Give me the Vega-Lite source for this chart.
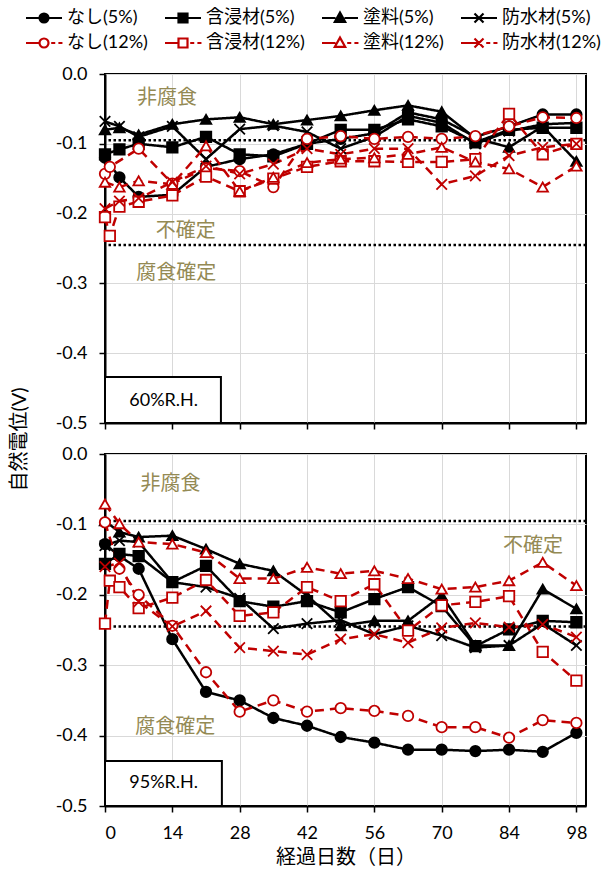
{
"$schema": "https://vega.github.io/schema/vega-lite/v6.json",
"padding": {"left": 8, "top": 8, "right": 5, "bottom": 5},
"datasets": {
"thr": [{"v": -0.095}, {"v": -0.245}],
"ann": [
{"rh":"60","d":12.9,"v":-0.035,"t":"非腐食"},{"rh":"60","d":16.8,"v":-0.225,"t":"不確定"},{"rh":"60","d":14.8,"v":-0.285,"t":"腐食確定"},
{"rh":"95","d":13.6,"v":-0.043,"t":"非腐食"},{"rh":"95","d":89,"v":-0.131,"t":"不確定"},{"rh":"95","d":14.6,"v":-0.388,"t":"腐食確定"}],
"box": [
{"rh":"60","d":0,"d2":24.1,"v":-0.434,"v2":-0.5},
{"rh":"95","d":0,"d2":24.3,"v":-0.436,"v2":-0.5}],
"boxt": [
{"rh":"60","d":12.2,"v":-0.468,"t":"60%R.H."},
{"rh":"95","d":12.2,"v":-0.468,"t":"95%R.H."}],
"d": [
{"rh":"60","s":"なし(5%)","d":0,"v":-0.12},{"rh":"60","s":"なし(5%)","d":3,"v":-0.148},{"rh":"60","s":"なし(5%)","d":7,"v":-0.176},{"rh":"60","s":"なし(5%)","d":14,"v":-0.173},{"rh":"60","s":"なし(5%)","d":21,"v":-0.133},{"rh":"60","s":"なし(5%)","d":28,"v":-0.122},{"rh":"60","s":"なし(5%)","d":35,"v":-0.115},{"rh":"60","s":"なし(5%)","d":42,"v":-0.1},{"rh":"60","s":"なし(5%)","d":49,"v":-0.093},{"rh":"60","s":"なし(5%)","d":56,"v":-0.085},{"rh":"60","s":"なし(5%)","d":63,"v":-0.055},{"rh":"60","s":"なし(5%)","d":70,"v":-0.065},{"rh":"60","s":"なし(5%)","d":77,"v":-0.09},{"rh":"60","s":"なし(5%)","d":84,"v":-0.075},{"rh":"60","s":"なし(5%)","d":91,"v":-0.058},{"rh":"60","s":"なし(5%)","d":98,"v":-0.058},
{"rh":"60","s":"含浸材(5%)","d":0,"v":-0.115},{"rh":"60","s":"含浸材(5%)","d":3,"v":-0.108},{"rh":"60","s":"含浸材(5%)","d":7,"v":-0.1},{"rh":"60","s":"含浸材(5%)","d":14,"v":-0.105},{"rh":"60","s":"含浸材(5%)","d":21,"v":-0.09},{"rh":"60","s":"含浸材(5%)","d":28,"v":-0.115},{"rh":"60","s":"含浸材(5%)","d":35,"v":-0.118},{"rh":"60","s":"含浸材(5%)","d":42,"v":-0.1},{"rh":"60","s":"含浸材(5%)","d":49,"v":-0.08},{"rh":"60","s":"含浸材(5%)","d":56,"v":-0.08},{"rh":"60","s":"含浸材(5%)","d":63,"v":-0.065},{"rh":"60","s":"含浸材(5%)","d":70,"v":-0.075},{"rh":"60","s":"含浸材(5%)","d":77,"v":-0.098},{"rh":"60","s":"含浸材(5%)","d":84,"v":-0.08},{"rh":"60","s":"含浸材(5%)","d":91,"v":-0.077},{"rh":"60","s":"含浸材(5%)","d":98,"v":-0.077},
{"rh":"60","s":"塗料(5%)","d":0,"v":-0.08},{"rh":"60","s":"塗料(5%)","d":3,"v":-0.077},{"rh":"60","s":"塗料(5%)","d":7,"v":-0.087},{"rh":"60","s":"塗料(5%)","d":14,"v":-0.072},{"rh":"60","s":"塗料(5%)","d":21,"v":-0.065},{"rh":"60","s":"塗料(5%)","d":28,"v":-0.062},{"rh":"60","s":"塗料(5%)","d":35,"v":-0.072},{"rh":"60","s":"塗料(5%)","d":42,"v":-0.066},{"rh":"60","s":"塗料(5%)","d":49,"v":-0.06},{"rh":"60","s":"塗料(5%)","d":56,"v":-0.052},{"rh":"60","s":"塗料(5%)","d":63,"v":-0.045},{"rh":"60","s":"塗料(5%)","d":70,"v":-0.054},{"rh":"60","s":"塗料(5%)","d":77,"v":-0.092},{"rh":"60","s":"塗料(5%)","d":84,"v":-0.105},{"rh":"60","s":"塗料(5%)","d":91,"v":-0.075},{"rh":"60","s":"塗料(5%)","d":98,"v":-0.125},
{"rh":"60","s":"防水材(5%)","d":0,"v":-0.068},{"rh":"60","s":"防水材(5%)","d":3,"v":-0.075},{"rh":"60","s":"防水材(5%)","d":7,"v":-0.09},{"rh":"60","s":"防水材(5%)","d":14,"v":-0.075},{"rh":"60","s":"防水材(5%)","d":21,"v":-0.122},{"rh":"60","s":"防水材(5%)","d":28,"v":-0.079},{"rh":"60","s":"防水材(5%)","d":35,"v":-0.074},{"rh":"60","s":"防水材(5%)","d":42,"v":-0.083},{"rh":"60","s":"防水材(5%)","d":49,"v":-0.107},{"rh":"60","s":"防水材(5%)","d":56,"v":-0.09},{"rh":"60","s":"防水材(5%)","d":63,"v":-0.06},{"rh":"60","s":"防水材(5%)","d":70,"v":-0.07},{"rh":"60","s":"防水材(5%)","d":77,"v":-0.1},{"rh":"60","s":"防水材(5%)","d":84,"v":-0.082},{"rh":"60","s":"防水材(5%)","d":91,"v":-0.072},{"rh":"60","s":"防水材(5%)","d":98,"v":-0.07},
{"rh":"60","s":"なし(12%)","d":0,"v":-0.143},{"rh":"60","s":"なし(12%)","d":1,"v":-0.133},{"rh":"60","s":"なし(12%)","d":7,"v":-0.107},{"rh":"60","s":"なし(12%)","d":14,"v":-0.157},{"rh":"60","s":"なし(12%)","d":21,"v":-0.135},{"rh":"60","s":"なし(12%)","d":28,"v":-0.139},{"rh":"60","s":"なし(12%)","d":35,"v":-0.162},{"rh":"60","s":"なし(12%)","d":42,"v":-0.093},{"rh":"60","s":"なし(12%)","d":49,"v":-0.089},{"rh":"60","s":"なし(12%)","d":56,"v":-0.093},{"rh":"60","s":"なし(12%)","d":63,"v":-0.09},{"rh":"60","s":"なし(12%)","d":70,"v":-0.093},{"rh":"60","s":"なし(12%)","d":77,"v":-0.089},{"rh":"60","s":"なし(12%)","d":84,"v":-0.075},{"rh":"60","s":"なし(12%)","d":91,"v":-0.062},{"rh":"60","s":"なし(12%)","d":98,"v":-0.063},
{"rh":"60","s":"含浸材(12%)","d":0,"v":-0.205},{"rh":"60","s":"含浸材(12%)","d":1,"v":-0.232},{"rh":"60","s":"含浸材(12%)","d":3,"v":-0.19},{"rh":"60","s":"含浸材(12%)","d":7,"v":-0.183},{"rh":"60","s":"含浸材(12%)","d":14,"v":-0.174},{"rh":"60","s":"含浸材(12%)","d":21,"v":-0.147},{"rh":"60","s":"含浸材(12%)","d":28,"v":-0.168},{"rh":"60","s":"含浸材(12%)","d":35,"v":-0.15},{"rh":"60","s":"含浸材(12%)","d":42,"v":-0.133},{"rh":"60","s":"含浸材(12%)","d":49,"v":-0.125},{"rh":"60","s":"含浸材(12%)","d":56,"v":-0.125},{"rh":"60","s":"含浸材(12%)","d":63,"v":-0.126},{"rh":"60","s":"含浸材(12%)","d":70,"v":-0.126},{"rh":"60","s":"含浸材(12%)","d":77,"v":-0.122},{"rh":"60","s":"含浸材(12%)","d":84,"v":-0.057},{"rh":"60","s":"含浸材(12%)","d":91,"v":-0.115},{"rh":"60","s":"含浸材(12%)","d":98,"v":-0.1},
{"rh":"60","s":"塗料(12%)","d":0,"v":-0.155},{"rh":"60","s":"塗料(12%)","d":3,"v":-0.162},{"rh":"60","s":"塗料(12%)","d":7,"v":-0.153},{"rh":"60","s":"塗料(12%)","d":14,"v":-0.158},{"rh":"60","s":"塗料(12%)","d":21,"v":-0.103},{"rh":"60","s":"塗料(12%)","d":28,"v":-0.168},{"rh":"60","s":"塗料(12%)","d":35,"v":-0.148},{"rh":"60","s":"塗料(12%)","d":42,"v":-0.127},{"rh":"60","s":"塗料(12%)","d":49,"v":-0.122},{"rh":"60","s":"塗料(12%)","d":56,"v":-0.12},{"rh":"60","s":"塗料(12%)","d":63,"v":-0.115},{"rh":"60","s":"塗料(12%)","d":70,"v":-0.105},{"rh":"60","s":"塗料(12%)","d":77,"v":-0.126},{"rh":"60","s":"塗料(12%)","d":84,"v":-0.136},{"rh":"60","s":"塗料(12%)","d":91,"v":-0.162},{"rh":"60","s":"塗料(12%)","d":98,"v":-0.132},
{"rh":"60","s":"防水材(12%)","d":0,"v":-0.193},{"rh":"60","s":"防水材(12%)","d":3,"v":-0.182},{"rh":"60","s":"防水材(12%)","d":7,"v":-0.178},{"rh":"60","s":"防水材(12%)","d":14,"v":-0.155},{"rh":"60","s":"防水材(12%)","d":21,"v":-0.132},{"rh":"60","s":"防水材(12%)","d":28,"v":-0.143},{"rh":"60","s":"防水材(12%)","d":35,"v":-0.129},{"rh":"60","s":"防水材(12%)","d":42,"v":-0.107},{"rh":"60","s":"防水材(12%)","d":49,"v":-0.115},{"rh":"60","s":"防水材(12%)","d":56,"v":-0.107},{"rh":"60","s":"防水材(12%)","d":63,"v":-0.107},{"rh":"60","s":"防水材(12%)","d":70,"v":-0.158},{"rh":"60","s":"防水材(12%)","d":77,"v":-0.146},{"rh":"60","s":"防水材(12%)","d":84,"v":-0.117},{"rh":"60","s":"防水材(12%)","d":91,"v":-0.105},{"rh":"60","s":"防水材(12%)","d":98,"v":-0.1},
{"rh":"95","s":"なし(5%)","d":0,"v":-0.128},{"rh":"95","s":"なし(5%)","d":3,"v":-0.145},{"rh":"95","s":"なし(5%)","d":7,"v":-0.163},{"rh":"95","s":"なし(5%)","d":14,"v":-0.263},{"rh":"95","s":"なし(5%)","d":21,"v":-0.338},{"rh":"95","s":"なし(5%)","d":28,"v":-0.35},{"rh":"95","s":"なし(5%)","d":35,"v":-0.375},{"rh":"95","s":"なし(5%)","d":42,"v":-0.386},{"rh":"95","s":"なし(5%)","d":49,"v":-0.402},{"rh":"95","s":"なし(5%)","d":56,"v":-0.41},{"rh":"95","s":"なし(5%)","d":63,"v":-0.42},{"rh":"95","s":"なし(5%)","d":70,"v":-0.42},{"rh":"95","s":"なし(5%)","d":77,"v":-0.422},{"rh":"95","s":"なし(5%)","d":84,"v":-0.42},{"rh":"95","s":"なし(5%)","d":91,"v":-0.423},{"rh":"95","s":"なし(5%)","d":98,"v":-0.396},
{"rh":"95","s":"含浸材(5%)","d":0,"v":-0.156},{"rh":"95","s":"含浸材(5%)","d":3,"v":-0.142},{"rh":"95","s":"含浸材(5%)","d":7,"v":-0.145},{"rh":"95","s":"含浸材(5%)","d":14,"v":-0.182},{"rh":"95","s":"含浸材(5%)","d":21,"v":-0.159},{"rh":"95","s":"含浸材(5%)","d":28,"v":-0.209},{"rh":"95","s":"含浸材(5%)","d":35,"v":-0.217},{"rh":"95","s":"含浸材(5%)","d":42,"v":-0.209},{"rh":"95","s":"含浸材(5%)","d":49,"v":-0.225},{"rh":"95","s":"含浸材(5%)","d":56,"v":-0.206},{"rh":"95","s":"含浸材(5%)","d":63,"v":-0.189},{"rh":"95","s":"含浸材(5%)","d":70,"v":-0.216},{"rh":"95","s":"含浸材(5%)","d":77,"v":-0.273},{"rh":"95","s":"含浸材(5%)","d":84,"v":-0.249},{"rh":"95","s":"含浸材(5%)","d":91,"v":-0.237},{"rh":"95","s":"含浸材(5%)","d":98,"v":-0.239},
{"rh":"95","s":"塗料(5%)","d":0,"v":-0.095},{"rh":"95","s":"塗料(5%)","d":3,"v":-0.111},{"rh":"95","s":"塗料(5%)","d":7,"v":-0.118},{"rh":"95","s":"塗料(5%)","d":14,"v":-0.116},{"rh":"95","s":"塗料(5%)","d":21,"v":-0.135},{"rh":"95","s":"塗料(5%)","d":28,"v":-0.156},{"rh":"95","s":"塗料(5%)","d":35,"v":-0.166},{"rh":"95","s":"塗料(5%)","d":42,"v":-0.201},{"rh":"95","s":"塗料(5%)","d":49,"v":-0.244},{"rh":"95","s":"塗料(5%)","d":56,"v":-0.237},{"rh":"95","s":"塗料(5%)","d":63,"v":-0.237},{"rh":"95","s":"塗料(5%)","d":70,"v":-0.201},{"rh":"95","s":"塗料(5%)","d":77,"v":-0.272},{"rh":"95","s":"塗料(5%)","d":84,"v":-0.272},{"rh":"95","s":"塗料(5%)","d":91,"v":-0.192},{"rh":"95","s":"塗料(5%)","d":98,"v":-0.22},
{"rh":"95","s":"防水材(5%)","d":0,"v":-0.13},{"rh":"95","s":"防水材(5%)","d":3,"v":-0.123},{"rh":"95","s":"防水材(5%)","d":7,"v":-0.125},{"rh":"95","s":"防水材(5%)","d":14,"v":-0.182},{"rh":"95","s":"防水材(5%)","d":21,"v":-0.189},{"rh":"95","s":"防水材(5%)","d":28,"v":-0.205},{"rh":"95","s":"防水材(5%)","d":35,"v":-0.248},{"rh":"95","s":"防水材(5%)","d":42,"v":-0.241},{"rh":"95","s":"防水材(5%)","d":49,"v":-0.236},{"rh":"95","s":"防水材(5%)","d":56,"v":-0.256},{"rh":"95","s":"防水材(5%)","d":63,"v":-0.244},{"rh":"95","s":"防水材(5%)","d":70,"v":-0.258},{"rh":"95","s":"防水材(5%)","d":77,"v":-0.275},{"rh":"95","s":"防水材(5%)","d":84,"v":-0.272},{"rh":"95","s":"防水材(5%)","d":91,"v":-0.241},{"rh":"95","s":"防水材(5%)","d":98,"v":-0.272},
{"rh":"95","s":"なし(12%)","d":0,"v":-0.097},{"rh":"95","s":"なし(12%)","d":3,"v":-0.163},{"rh":"95","s":"なし(12%)","d":7,"v":-0.2},{"rh":"95","s":"なし(12%)","d":14,"v":-0.244},{"rh":"95","s":"なし(12%)","d":21,"v":-0.31},{"rh":"95","s":"なし(12%)","d":28,"v":-0.366},{"rh":"95","s":"なし(12%)","d":35,"v":-0.35},{"rh":"95","s":"なし(12%)","d":42,"v":-0.366},{"rh":"95","s":"なし(12%)","d":49,"v":-0.361},{"rh":"95","s":"なし(12%)","d":56,"v":-0.365},{"rh":"95","s":"なし(12%)","d":63,"v":-0.372},{"rh":"95","s":"なし(12%)","d":70,"v":-0.388},{"rh":"95","s":"なし(12%)","d":77,"v":-0.388},{"rh":"95","s":"なし(12%)","d":84,"v":-0.403},{"rh":"95","s":"なし(12%)","d":91,"v":-0.378},{"rh":"95","s":"なし(12%)","d":98,"v":-0.382},
{"rh":"95","s":"含浸材(12%)","d":0,"v":-0.241},{"rh":"95","s":"含浸材(12%)","d":1,"v":-0.18},{"rh":"95","s":"含浸材(12%)","d":3,"v":-0.189},{"rh":"95","s":"含浸材(12%)","d":7,"v":-0.219},{"rh":"95","s":"含浸材(12%)","d":14,"v":-0.204},{"rh":"95","s":"含浸材(12%)","d":21,"v":-0.179},{"rh":"95","s":"含浸材(12%)","d":28,"v":-0.23},{"rh":"95","s":"含浸材(12%)","d":35,"v":-0.225},{"rh":"95","s":"含浸材(12%)","d":42,"v":-0.189},{"rh":"95","s":"含浸材(12%)","d":49,"v":-0.209},{"rh":"95","s":"含浸材(12%)","d":56,"v":-0.185},{"rh":"95","s":"含浸材(12%)","d":63,"v":-0.251},{"rh":"95","s":"含浸材(12%)","d":70,"v":-0.215},{"rh":"95","s":"含浸材(12%)","d":77,"v":-0.21},{"rh":"95","s":"含浸材(12%)","d":84,"v":-0.202},{"rh":"95","s":"含浸材(12%)","d":91,"v":-0.281},{"rh":"95","s":"含浸材(12%)","d":98,"v":-0.322},
{"rh":"95","s":"塗料(12%)","d":0,"v":-0.071},{"rh":"95","s":"塗料(12%)","d":3,"v":-0.099},{"rh":"95","s":"塗料(12%)","d":7,"v":-0.125},{"rh":"95","s":"塗料(12%)","d":14,"v":-0.128},{"rh":"95","s":"塗料(12%)","d":21,"v":-0.14},{"rh":"95","s":"塗料(12%)","d":28,"v":-0.177},{"rh":"95","s":"塗料(12%)","d":35,"v":-0.177},{"rh":"95","s":"塗料(12%)","d":42,"v":-0.161},{"rh":"95","s":"塗料(12%)","d":49,"v":-0.17},{"rh":"95","s":"塗料(12%)","d":56,"v":-0.166},{"rh":"95","s":"塗料(12%)","d":63,"v":-0.177},{"rh":"95","s":"塗料(12%)","d":70,"v":-0.192},{"rh":"95","s":"塗料(12%)","d":77,"v":-0.189},{"rh":"95","s":"塗料(12%)","d":84,"v":-0.18},{"rh":"95","s":"塗料(12%)","d":91,"v":-0.154},{"rh":"95","s":"塗料(12%)","d":98,"v":-0.187},
{"rh":"95","s":"防水材(12%)","d":0,"v":-0.16},{"rh":"95","s":"防水材(12%)","d":3,"v":-0.155},{"rh":"95","s":"防水材(12%)","d":7,"v":-0.21},{"rh":"95","s":"防水材(12%)","d":14,"v":-0.245},{"rh":"95","s":"防水材(12%)","d":21,"v":-0.223},{"rh":"95","s":"防水材(12%)","d":28,"v":-0.275},{"rh":"95","s":"防水材(12%)","d":35,"v":-0.28},{"rh":"95","s":"防水材(12%)","d":42,"v":-0.285},{"rh":"95","s":"防水材(12%)","d":49,"v":-0.263},{"rh":"95","s":"防水材(12%)","d":56,"v":-0.256},{"rh":"95","s":"防水材(12%)","d":63,"v":-0.268},{"rh":"95","s":"防水材(12%)","d":70,"v":-0.247},{"rh":"95","s":"防水材(12%)","d":77,"v":-0.24},{"rh":"95","s":"防水材(12%)","d":84,"v":-0.246},{"rh":"95","s":"防水材(12%)","d":91,"v":-0.242},{"rh":"95","s":"防水材(12%)","d":98,"v":-0.26}
]
},
"bounds": "flush",
"spacing": 31,
"resolve": {"scale": {"color": "independent", "shape": "independent", "fill": "independent", "stroke": "independent", "strokeDash": "independent"}, "legend": {"shape": "independent", "fill": "independent", "stroke": "independent"}},
"vconcat": [
{
"width": 481, "height": 349,
"resolve": {"scale": {"shape": "independent", "fill": "independent", "stroke": "independent"}, "legend": {"shape": "independent", "fill": "independent", "stroke": "independent"}},
"layer": [
{"data": {"name": "thr"}, "mark": {"type": "rule", "color": "black", "strokeWidth": 2.5, "strokeDash": [2.5, 2.5]},
 "encoding": {"y": {"field": "v", "type": "quantitative", "scale": {"domain": [-0.5, 0], "nice": false, "zero": false}}}},
{"data": {"name": "d"}, "transform": [{"filter": "datum.rh == '60'"}], "mark": {"type": "line", "strokeWidth": 2.5},
 "encoding": {
  "x": {"field": "d", "type": "quantitative", "scale": {"domain": [0, 100], "nice": false}, "axis": {"values": [0,14,28,42,56,70,84,98], "labels": false, "title": null, "grid": true}},
  "y": {"field": "v", "type": "quantitative", "scale": {"domain": [-0.5, 0], "nice": false, "zero": false}, "axis": {"values": [0,-0.1,-0.2,-0.3,-0.4,-0.5], "labelExpr": "datum.value < 0 ? '-' + format(-datum.value, '.1f') : format(datum.value, '.1f')", "title": "自然電位(V)", "titleX": -76, "titleY": 365, "titleAngle": 270, "titleAlign": "center", "titleBaseline": "bottom", "grid": true}},
  "color": {"field": "s", "type": "nominal", "scale": {"domain": ["なし(5%)","含浸材(5%)","塗料(5%)","防水材(5%)","なし(12%)","含浸材(12%)","塗料(12%)","防水材(12%)"], "range": ["#000000","#000000","#000000","#000000","#C00000","#C00000","#C00000","#C00000"]}, "legend": null},
  "strokeDash": {"field": "s", "type": "nominal", "scale": {"domain": ["なし(5%)","含浸材(5%)","塗料(5%)","防水材(5%)","なし(12%)","含浸材(12%)","塗料(12%)","防水材(12%)"], "range": [[1,0],[1,0],[1,0],[1,0],[9,6],[9,6],[9,6],[9,6]]}, "legend": null}
 }},
{"data": {"name": "d"}, "transform": [{"filter": "datum.rh == '60'"}], "mark": {"type": "point", "size": 110, "strokeWidth": 1.8, "opacity": 1},
 "encoding": {
  "x": {"field": "d", "type": "quantitative"},
  "y": {"field": "v", "type": "quantitative"},
  "shape": {"field": "s", "type": "nominal", "scale": {"domain": ["なし(5%)","含浸材(5%)","塗料(5%)","防水材(5%)","なし(12%)","含浸材(12%)","塗料(12%)","防水材(12%)"], "range": ["circle","square","triangle-up","M-1,-1L1,1M-1,1L1,-1","circle","square","triangle-up","M-1,-1L1,1M-1,1L1,-1"]}, "legend": null},
  "fill": {"field": "s", "type": "nominal", "scale": {"domain": ["なし(5%)","含浸材(5%)","塗料(5%)","防水材(5%)","なし(12%)","含浸材(12%)","塗料(12%)","防水材(12%)"], "range": ["#000000","#000000","#000000","transparent","#ffffff","#ffffff","#ffffff","transparent"]}, "legend": null},
  "stroke": {"field": "s", "type": "nominal", "scale": {"domain": ["なし(5%)","含浸材(5%)","塗料(5%)","防水材(5%)","なし(12%)","含浸材(12%)","塗料(12%)","防水材(12%)"], "range": ["#000000","#000000","#000000","#000000","#C00000","#C00000","#C00000","#C00000"]}, "legend": null}
 }},
{"data": {"name": "d"}, "transform": [{"filter": "false"}], "mark": {"type": "point", "strokeWidth": 2.2, "opacity": 1},
 "encoding": {
  "x": {"field": "d", "type": "quantitative"},
  "y": {"field": "v", "type": "quantitative"},
  "shape": {"field": "s", "type": "nominal", "scale": {"domain": ["なし(5%)","含浸材(5%)","塗料(5%)","防水材(5%)","なし(12%)","含浸材(12%)","塗料(12%)","防水材(12%)"], "range": [
    "M-4,0H-1.1M1.1,0H4M-1,0A1,1 0 1,0 1,0A1,1 0 1,0 -1,0Z",
    "M-4,0H-1M1,0H4M-1,-1H1V1H-1Z",
    "M-4,0H-1M1,0H4M0,-1.2L1.15,0.85H-1.15Z",
    "M-4,0H4M-1,-1L1,1M-1,1L1,-1",
    "M-4,0H-1.1M1.6,0H2.5M3.2,0H4.1M-1,0A1,1 0 1,0 1,0A1,1 0 1,0 -1,0Z",
    "M-4,0H-1M1.6,0H2.5M3.2,0H4.1M-1,-1H1V1H-1Z",
    "M-4,0H-1M1.6,0H2.5M3.2,0H4.1M0,-1.2L1.15,0.85H-1.15Z",
    "M-4,0H0M1.6,0H2.5M3.2,0H4.1M-1,-1L1,1M-1,1L1,-1"]},
   "legend": {"title": null, "orient": "none", "legendX": -70, "legendY": -65, "direction": "horizontal", "columns": 4}},
  "stroke": {"field": "s", "type": "nominal", "scale": {"domain": ["なし(5%)","含浸材(5%)","塗料(5%)","防水材(5%)","なし(12%)","含浸材(12%)","塗料(12%)","防水材(12%)"], "range": ["#000000","#000000","#000000","#000000","#C00000","#C00000","#C00000","#C00000"]},
   "legend": {"title": null, "orient": "none", "legendX": -70, "legendY": -65, "direction": "horizontal", "columns": 4}},
  "fill": {"field": "s", "type": "nominal", "scale": {"domain": ["なし(5%)","含浸材(5%)","塗料(5%)","防水材(5%)","なし(12%)","含浸材(12%)","塗料(12%)","防水材(12%)"], "range": ["#000000","#000000","#000000","#000000","#ffffff","#ffffff","#ffffff","#ffffff"]},
   "legend": {"title": null, "orient": "none", "legendX": -70, "legendY": -65, "direction": "horizontal", "columns": 4}}
 }},
{"data": {"name": "ann"}, "transform": [{"filter": "datum.rh == '60'"}], "mark": {"type": "text", "fontSize": 20, "color": "#948A54", "align": "center", "baseline": "middle"},
 "encoding": {"x": {"field": "d", "type": "quantitative"}, "y": {"field": "v", "type": "quantitative"}, "text": {"field": "t"}}},
{"data": {"name": "box"}, "transform": [{"filter": "datum.rh == '60'"}], "mark": {"type": "rect", "fill": "white", "stroke": "black", "strokeWidth": 2},
 "encoding": {"x": {"field": "d", "type": "quantitative"}, "x2": {"field": "d2"}, "y": {"field": "v", "type": "quantitative"}, "y2": {"field": "v2"}}},
{"data": {"name": "boxt"}, "transform": [{"filter": "datum.rh == '60'"}], "mark": {"type": "text", "fontSize": 18, "color": "black", "align": "center", "baseline": "middle"},
 "encoding": {"x": {"field": "d", "type": "quantitative"}, "y": {"field": "v", "type": "quantitative"}, "text": {"field": "t"}}}
]
},
{
"width": 481, "height": 352,
"layer": [
{"data": {"name": "thr"}, "mark": {"type": "rule", "color": "black", "strokeWidth": 2.5, "strokeDash": [2.5, 2.5]},
 "encoding": {"y": {"field": "v", "type": "quantitative", "scale": {"domain": [-0.5, 0], "nice": false, "zero": false}}}},
{"data": {"name": "d"}, "transform": [{"filter": "datum.rh == '95'"}], "mark": {"type": "line", "strokeWidth": 2.5},
 "encoding": {
  "x": {"field": "d", "type": "quantitative", "scale": {"domain": [0, 100], "nice": false}, "axis": {"values": [0,14,28,42,56,70,84,98], "title": "経過日数（日）", "grid": true, "labelPadding": 12, "titlePadding": 5}},
  "y": {"field": "v", "type": "quantitative", "scale": {"domain": [-0.5, 0], "nice": false, "zero": false}, "axis": {"values": [0,-0.1,-0.2,-0.3,-0.4,-0.5], "labelExpr": "datum.value < 0 ? '-' + format(-datum.value, '.1f') : format(datum.value, '.1f')", "title": null, "grid": true}},
  "color": {"field": "s", "type": "nominal", "scale": {"domain": ["なし(5%)","含浸材(5%)","塗料(5%)","防水材(5%)","なし(12%)","含浸材(12%)","塗料(12%)","防水材(12%)"], "range": ["#000000","#000000","#000000","#000000","#C00000","#C00000","#C00000","#C00000"]}, "legend": null},
  "strokeDash": {"field": "s", "type": "nominal", "scale": {"domain": ["なし(5%)","含浸材(5%)","塗料(5%)","防水材(5%)","なし(12%)","含浸材(12%)","塗料(12%)","防水材(12%)"], "range": [[1,0],[1,0],[1,0],[1,0],[9,6],[9,6],[9,6],[9,6]]}, "legend": null}
 }},
{"data": {"name": "d"}, "transform": [{"filter": "datum.rh == '95'"}], "mark": {"type": "point", "size": 110, "strokeWidth": 1.8, "opacity": 1},
 "encoding": {
  "x": {"field": "d", "type": "quantitative"},
  "y": {"field": "v", "type": "quantitative"},
  "shape": {"field": "s", "type": "nominal", "scale": {"domain": ["なし(5%)","含浸材(5%)","塗料(5%)","防水材(5%)","なし(12%)","含浸材(12%)","塗料(12%)","防水材(12%)"], "range": ["circle","square","triangle-up","M-1,-1L1,1M-1,1L1,-1","circle","square","triangle-up","M-1,-1L1,1M-1,1L1,-1"]}, "legend": null},
  "fill": {"field": "s", "type": "nominal", "scale": {"domain": ["なし(5%)","含浸材(5%)","塗料(5%)","防水材(5%)","なし(12%)","含浸材(12%)","塗料(12%)","防水材(12%)"], "range": ["#000000","#000000","#000000","transparent","#ffffff","#ffffff","#ffffff","transparent"]}, "legend": null},
  "stroke": {"field": "s", "type": "nominal", "scale": {"domain": ["なし(5%)","含浸材(5%)","塗料(5%)","防水材(5%)","なし(12%)","含浸材(12%)","塗料(12%)","防水材(12%)"], "range": ["#000000","#000000","#000000","#000000","#C00000","#C00000","#C00000","#C00000"]}, "legend": null}
 }},
{"data": {"name": "ann"}, "transform": [{"filter": "datum.rh == '95'"}], "mark": {"type": "text", "fontSize": 20, "color": "#948A54", "align": "center", "baseline": "middle"},
 "encoding": {"x": {"field": "d", "type": "quantitative"}, "y": {"field": "v", "type": "quantitative"}, "text": {"field": "t"}}},
{"data": {"name": "box"}, "transform": [{"filter": "datum.rh == '95'"}], "mark": {"type": "rect", "fill": "white", "stroke": "black", "strokeWidth": 2},
 "encoding": {"x": {"field": "d", "type": "quantitative"}, "x2": {"field": "d2"}, "y": {"field": "v", "type": "quantitative"}, "y2": {"field": "v2"}}},
{"data": {"name": "boxt"}, "transform": [{"filter": "datum.rh == '95'"}], "mark": {"type": "text", "fontSize": 18, "color": "black", "align": "center", "baseline": "middle"},
 "encoding": {"x": {"field": "d", "type": "quantitative"}, "y": {"field": "v", "type": "quantitative"}, "text": {"field": "t"}}}
]
}
],
"config": {
 "font": "Lato, Noto Sans CJK JP",
 "view": {"stroke": "black", "strokeWidth": 2},
 "axis": {"labelFontSize": 18, "titleFontSize": 20, "labelColor": "black", "titleColor": "black", "titleFontWeight": "normal", "gridColor": "#D9D9D9", "gridWidth": 1, "domainColor": "black", "domainWidth": 2, "tickColor": "black", "tickWidth": 1.5, "tickSize": 6},
 "axisY": {"labelPadding": 12},
 "legend": {"labelFontSize": 18, "labelColor": "black", "symbolStrokeWidth": 2.2, "symbolSize": 81, "labelOffset": 14, "columnPadding": 12, "rowPadding": 6, "labelLimit": 200}
}
}
